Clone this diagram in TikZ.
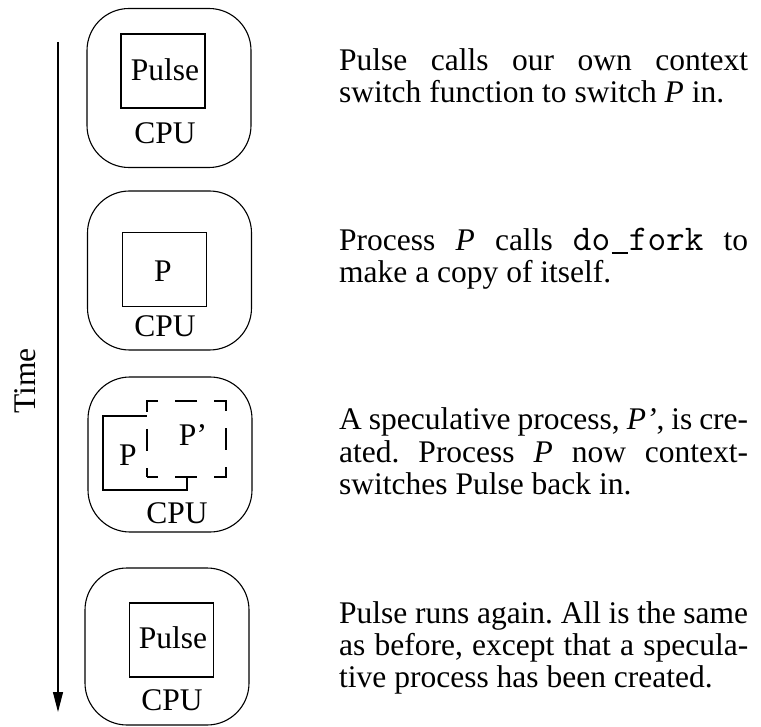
\documentclass[tikz,border=0pt]{standalone}
\usepackage{fontspec}
\setmainfont{Liberation Serif}
\setmonofont{Latin Modern Mono}[Scale=1.15]
\usetikzlibrary{arrows.meta}
% underscore drawn as a rule one monospaced cell wide
\newcommand\ttunder{\makebox[\fontcharwd\font`\ ][c]{\rule[-0.08em]{0.44em}{0.045em}}}

\begin{document}
\frenchspacing
\begin{tikzpicture}[x=1pt,y=-1pt,
  every node/.style={inner sep=0pt,font=\fontsize{31.5}{33}\selectfont},
  cpubox/.style={draw,line width=1.1pt,rounded corners=42pt,
                 minimum width=164pt,minimum height=159pt},
  procbox/.style={draw,line width=1.1pt,minimum width=84pt,minimum height=74pt},
  specbox/.style={draw,fill=white,line width=1.1pt,
                  dash pattern=on 22pt off 17pt,dash phase=11pt,
                  minimum width=79pt,minimum height=76pt},
  lbl/.style={anchor=base},
  txt/.style={anchor=base west}]
\path[use as bounding box] (0,0) rectangle (761,727);

% time axis
\coordinate (t0) at (58,42);
\coordinate (t1) at (58,712);
\draw[line width=1.1pt,-{Triangle[length=20pt,width=10pt]}] (t0) -- (t1);
\node[anchor=base,rotate=90] (time) at (35,381) {Time};

% step 1: Pulse running
\node[cpubox] (cpu1) at (169,88) {};
\node[procbox] (pulse1) at (163,71) {};
\node[lbl] (pulse1l) at (165,81) {Pulse};
\node[lbl] (cpu1l) at (165,144) {CPU};

% step 2: P running
\node[cpubox] (cpu2) at (169.5,270.5) {};
\node[procbox] (p2) at (164.5,269.5) {};
\node[lbl] (p2l) at (163,282) {P};
\node[lbl] (cpu2l) at (165,337) {CPU};

% step 3: P forks P'
\node[cpubox,minimum height=155pt] (cpu3) at (170,454.5) {};
\node[procbox] (p3) at (145,453) {};
\node[specbox] (q3) at (186.5,439) {};
\node[lbl] (p3l) at (128,465) {P};
\node[lbl] (q3l) at (193,446) {P’};
\node[lbl] (cpu3l) at (177,523) {CPU};

% step 4: Pulse running again
\node[cpubox,minimum height=157pt] (cpu4) at (167,646.5) {};
\node[procbox] (pulse4) at (171.5,640) {};
\node[lbl] (pulse4l) at (173,648) {Pulse};
\node[lbl] (cpu4l) at (172,710) {CPU};

% descriptions
\node[txt] (d1a) at (339,71) {\makebox[409pt][s]{Pulse calls our own context}};
\node[txt] (d1b) at (339,103) {switch function to switch \textit{P} in.};

\node[txt] (d2a) at (339,251) {\makebox[409pt][s]{Process \textit{P} calls \texttt{do\ttunder fork} to}};
\node[txt] (d2b) at (339,283) {make a copy of itself.};

\node[txt] (d3a) at (339,430) {\makebox[409pt][s]{A speculative process, \textit{P’}, is cre-}};
\node[txt] (d3b) at (339,462) {\makebox[409pt][s]{ated. Process \textit{P} now context-}};
\node[txt] (d3c) at (339,494) {switches Pulse back in.};

\node[txt] (d4a) at (339,623) {\makebox[409pt][s]{Pulse runs again. All is the same}};
\node[txt] (d4b) at (339,655) {\makebox[409pt][s]{as before, except that a specula-}};
\node[txt] (d4c) at (339,687) {tive process has been created.};
\end{tikzpicture}
\end{document}
